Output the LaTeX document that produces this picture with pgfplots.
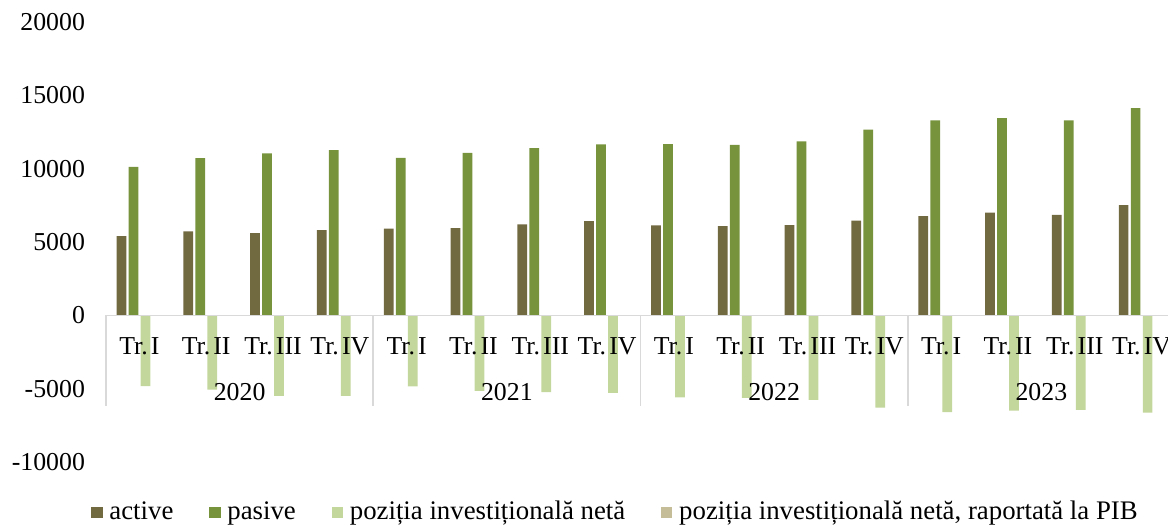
\documentclass[border=0pt]{standalone}
\usepackage{fontspec}
\setmainfont{Liberation Serif}
\usepackage{pgfplots}
\pgfplotsset{compat=1.18}
\definecolor{cActive}{HTML}{716A40}
\definecolor{cPasive}{HTML}{77933C}
\definecolor{cNet}{HTML}{C3D69B}
\definecolor{cPib}{HTML}{C4BD97}
\definecolor{cGrid}{HTML}{D9D9D9}
\newcommand{\tr}[1]{Tr.\hspace{0.12em}#1}

% quarters 2020 Tr. I ... 2023 Tr. IV at x = 0..15
\pgfplotstableread{
x active pasive net
0  5400 10130 -4830
1  5720 10720 -5060
2  5600 11040 -5490
3  5810 11260 -5490
4  5920 10740 -4850
5  5940 11080 -5150
6  6200 11400 -5240
7  6420 11650 -5290
8  6130 11680 -5600
9  6080 11630 -5630
10 6150 11860 -5760
11 6450 12670 -6290
12 6770 13290 -6600
13 7010 13440 -6490
14 6850 13290 -6450
15 7520 14130 -6630
}\datatable

\begin{document}
\begin{tikzpicture}[font=\fontsize{12.9}{14}\selectfont]
\path[use as bounding box] (-53pt,-32pt) rectangle (531pt,231pt);
\begin{axis}[
  at={(0pt,0pt)}, anchor=south west,
  width=534.5pt, height=220pt, scale only axis,
  ybar, bar width=4.85pt,
  xmin=-0.5, xmax=15.5,
  ymin=-10000, ymax=20000,
  ytick={-10000,-5000,0,5000,10000,15000,20000},
  scaled y ticks=false,
  xtick=\empty,
  axis line style={draw=none},
  tick style={draw=none},
  yticklabel style={anchor=east, xshift=-7pt},
  /pgf/number format/assume math mode=true,
  /pgf/number format/.cd, 1000 sep={}, /pgfplots/.cd,
  clip=false,
  legend style={draw=none, fill=none, at={(axis description cs:-0.014,-0.114)}, anchor=west,
    legend columns=4, inner sep=0pt,
    nodes={inner sep=1pt, anchor=west, font=\fontsize{13.4}{14}\selectfont},
    /tikz/every even column/.append style={column sep=17pt}},
  legend image code/.code={\fill[#1] (0pt,-2.8pt) rectangle (5.6pt,2.8pt); \path (8pt,0pt);},
]
\addplot[fill=cActive, draw=none, bar shift=-9pt] table[x=x, y=active] {\datatable};
\addplot[fill=cPasive, draw=none, bar shift=-3pt] table[x=x, y=pasive] {\datatable};
\addplot[fill=cNet, draw=none, bar shift=3pt] table[x=x, y=net] {\datatable};
\addlegendentry{active}
\addlegendentry{pasive}
\addlegendentry{poziția investițională netă}
\addlegendimage{fill=cPib, draw=none}
\addlegendentry{poziția investițională netă, raportată la PIB}

\draw[cGrid, line width=0.8pt] (axis cs:-0.5,0) -- (axis cs:15.5,0);
\pgfplotsinvokeforeach{-0.5,3.5,7.5,11.5,15.5}{
  \draw[cGrid, line width=0.8pt] (axis cs:#1,0) -- (axis cs:#1,-6170);
}
\node at (axis cs:0,-2080) {\tr{I}};
\node at (axis cs:1,-2080) {\tr{II}};
\node at (axis cs:2,-2080) {\tr{III}};
\node at (axis cs:3,-2080) {\tr{IV}};
\node at (axis cs:4,-2080) {\tr{I}};
\node at (axis cs:5,-2080) {\tr{II}};
\node at (axis cs:6,-2080) {\tr{III}};
\node at (axis cs:7,-2080) {\tr{IV}};
\node at (axis cs:8,-2080) {\tr{I}};
\node at (axis cs:9,-2080) {\tr{II}};
\node at (axis cs:10,-2080) {\tr{III}};
\node at (axis cs:11,-2080) {\tr{IV}};
\node at (axis cs:12,-2080) {\tr{I}};
\node at (axis cs:13,-2080) {\tr{II}};
\node at (axis cs:14,-2080) {\tr{III}};
\node at (axis cs:15,-2080) {\tr{IV}};
\node at (axis cs:1.5,-5250) {2020};
\node at (axis cs:5.5,-5250) {2021};
\node at (axis cs:9.5,-5250) {2022};
\node at (axis cs:13.5,-5250) {2023};
\end{axis}
\end{tikzpicture}
\end{document}
